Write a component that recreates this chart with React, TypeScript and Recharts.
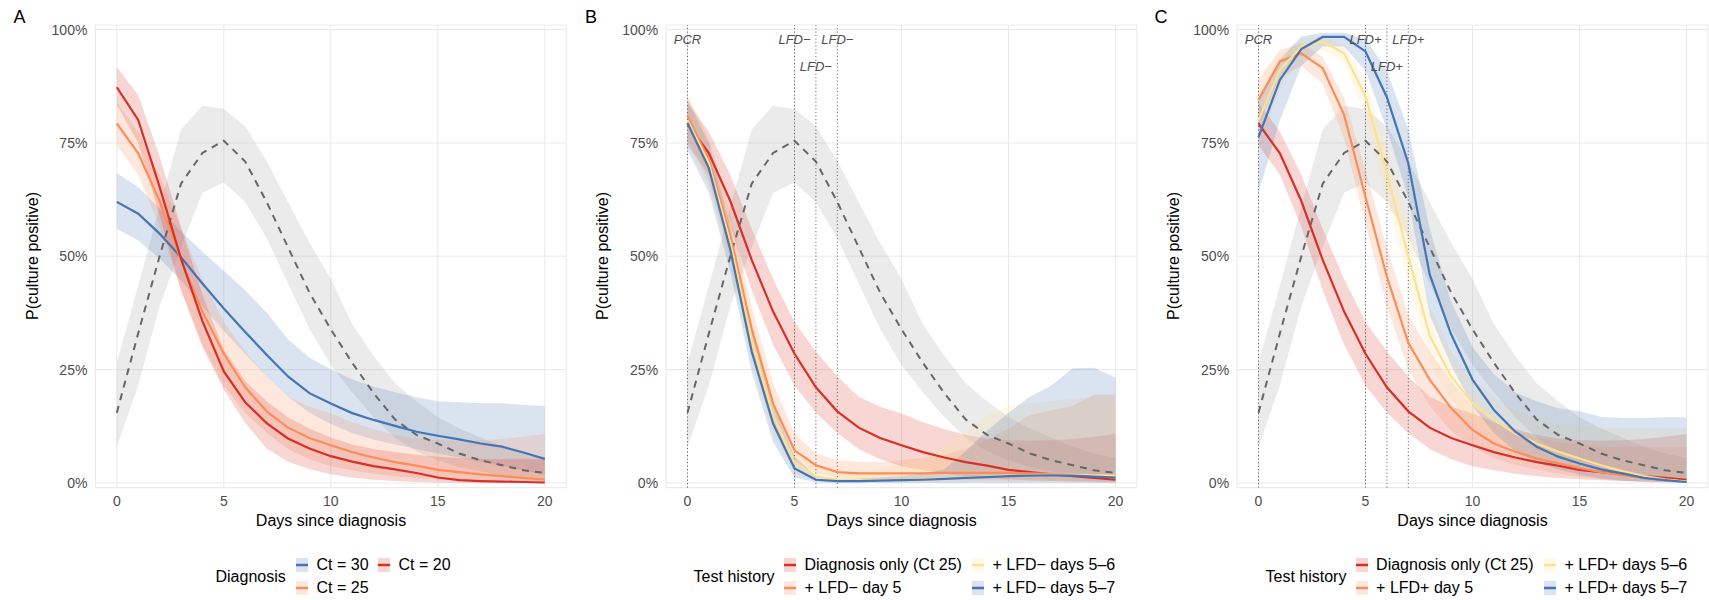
import React from 'react';
import { ComposedChart, Area, Line, XAxis, YAxis, CartesianGrid, ReferenceLine } from 'recharts';

const FONT = '"Liberation Sans", Arial, Helvetica, sans-serif';

const days = [0, 1, 2, 3, 4, 5, 6, 7, 8, 9, 10, 11, 12, 13, 14, 15, 16, 17, 18, 19, 20];
const xTicks = [0, 5, 10, 15, 20];
const yTicks = [0, 0.25, 0.5, 0.75, 1];

// grey reference curve (dashed) and its band
const refMid = [0.155, 0.33, 0.5, 0.66, 0.728, 0.755, 0.709, 0.62, 0.52, 0.42, 0.339, 0.265, 0.198, 0.14, 0.106, 0.087, 0.065, 0.05, 0.039, 0.028, 0.022];
const refLo = [0.08, 0.215, 0.39, 0.52, 0.64, 0.663, 0.62, 0.54, 0.44, 0.34, 0.26, 0.2, 0.145, 0.1, 0.07, 0.05, 0.035, 0.025, 0.017, 0.012, 0.008];
const refHi = [0.265, 0.435, 0.61, 0.78, 0.832, 0.825, 0.787, 0.71, 0.62, 0.53, 0.45, 0.35, 0.28, 0.22, 0.18, 0.145, 0.12, 0.1, 0.08, 0.065, 0.055];

// Panel A
const ct30Mid = [0.62, 0.594, 0.55, 0.498, 0.44, 0.385, 0.333, 0.283, 0.235, 0.198, 0.175, 0.154, 0.139, 0.126, 0.113, 0.104, 0.096, 0.087, 0.08, 0.067, 0.053];
const ct30Lo = [0.561, 0.535, 0.495, 0.447, 0.39, 0.335, 0.285, 0.235, 0.19, 0.155, 0.13, 0.11, 0.096, 0.085, 0.075, 0.065, 0.056, 0.047, 0.038, 0.028, 0.018];
const ct30Hi = [0.683, 0.653, 0.605, 0.555, 0.51, 0.468, 0.425, 0.376, 0.317, 0.276, 0.251, 0.228, 0.213, 0.2, 0.189, 0.18, 0.178, 0.176, 0.176, 0.172, 0.17];

const ct25Mid = [0.793, 0.727, 0.622, 0.492, 0.378, 0.285, 0.211, 0.158, 0.122, 0.099, 0.083, 0.068, 0.056, 0.046, 0.038, 0.029, 0.024, 0.019, 0.015, 0.011, 0.007];
const ct25Lo = [0.745, 0.68, 0.565, 0.425, 0.305, 0.215, 0.155, 0.11, 0.075, 0.052, 0.037, 0.028, 0.02, 0.015, 0.011, 0.008, 0.006, 0.004, 0.003, 0.002, 0.001];
const ct25Hi = [0.84, 0.775, 0.68, 0.56, 0.45, 0.355, 0.29, 0.235, 0.19, 0.168, 0.153, 0.134, 0.119, 0.106, 0.098, 0.094, 0.093, 0.094, 0.097, 0.102, 0.108];

const ct20Mid = [0.873, 0.801, 0.653, 0.495, 0.357, 0.246, 0.178, 0.132, 0.098, 0.076, 0.059, 0.047, 0.037, 0.03, 0.022, 0.012, 0.006, 0.004, 0.003, 0.002, 0.001];
const ct20Lo = [0.835, 0.75, 0.59, 0.425, 0.3, 0.206, 0.132, 0.076, 0.047, 0.03, 0.019, 0.012, 0.007, 0.004, 0.002, 0.001, 0, 0, 0, 0, 0];
const ct20Hi = [0.917, 0.856, 0.72, 0.565, 0.415, 0.295, 0.225, 0.18, 0.145, 0.12, 0.1, 0.085, 0.075, 0.068, 0.062, 0.058, 0.055, 0.053, 0.052, 0.052, 0.052];

// Panel B
const neg5Mid = [0.809, 0.713, 0.545, 0.34, 0.175, 0.072, 0.039, 0.024, 0.021, 0.021, 0.021, 0.021, 0.022, 0.022, 0.022, 0.022, 0.021, 0.02, 0.018, 0.016, 0.015];
const neg5Lo = [0.76, 0.665, 0.495, 0.29, 0.135, 0.045, 0.022, 0.012, 0.009, 0.008, 0.008, 0.007, 0.007, 0.006, 0.006, 0.006, 0.005, 0.005, 0.004, 0.004, 0.003];
const neg5Hi = [0.855, 0.76, 0.595, 0.39, 0.22, 0.109, 0.065, 0.05, 0.046, 0.046, 0.05, 0.055, 0.062, 0.075, 0.095, 0.12, 0.15, 0.16, 0.17, 0.195, 0.195];

const neg56Mid = [0.8, 0.705, 0.53, 0.315, 0.148, 0.046, 0.015, 0.007, 0.006, 0.006, 0.007, 0.008, 0.01, 0.012, 0.014, 0.016, 0.017, 0.018, 0.018, 0.017, 0.016];
const neg56Lo = [0.75, 0.655, 0.48, 0.265, 0.105, 0.022, 0.005, 0.002, 0.002, 0.002, 0.002, 0.002, 0.002, 0.002, 0.003, 0.003, 0.003, 0.003, 0.003, 0.003, 0.003];
const neg56Hi = [0.85, 0.755, 0.58, 0.365, 0.19, 0.075, 0.035, 0.025, 0.025, 0.03, 0.04, 0.055, 0.08, 0.115, 0.15, 0.17, 0.175, 0.18, 0.185, 0.19, 0.19];

const neg57Mid = [0.794, 0.694, 0.515, 0.29, 0.131, 0.032, 0.007, 0.004, 0.004, 0.005, 0.006, 0.007, 0.009, 0.011, 0.013, 0.015, 0.016, 0.017, 0.016, 0.014, 0.012];
const neg57Lo = [0.735, 0.64, 0.465, 0.245, 0.09, 0.012, 0.001, 0, 0, 0, 0, 0, 0, 0, 0, 0, 0, 0, 0, 0, 0];
const neg57Hi = [0.845, 0.75, 0.565, 0.34, 0.175, 0.058, 0.016, 0.01, 0.01, 0.012, 0.015, 0.02, 0.03, 0.07, 0.115, 0.155, 0.19, 0.215, 0.253, 0.254, 0.232];

// Panel C
const pos5Mid = [0.845, 0.93, 0.948, 0.915, 0.812, 0.631, 0.455, 0.309, 0.228, 0.165, 0.117, 0.087, 0.069, 0.054, 0.043, 0.033, 0.024, 0.017, 0.011, 0.006, 0.003];
const pos5Lo = [0.79, 0.895, 0.92, 0.88, 0.76, 0.57, 0.39, 0.25, 0.17, 0.115, 0.08, 0.055, 0.04, 0.03, 0.02, 0.013, 0.008, 0.005, 0.003, 0.002, 0.001];
const pos5Hi = [0.89, 0.955, 0.97, 0.94, 0.85, 0.69, 0.52, 0.37, 0.29, 0.225, 0.17, 0.135, 0.115, 0.1, 0.09, 0.085, 0.08, 0.08, 0.08, 0.08, 0.08];

const pos56Mid = [0.8, 0.911, 0.963, 0.974, 0.948, 0.853, 0.683, 0.5, 0.325, 0.235, 0.176, 0.139, 0.109, 0.087, 0.069, 0.054, 0.039, 0.026, 0.015, 0.008, 0.003];
const pos56Lo = [0.74, 0.87, 0.94, 0.955, 0.925, 0.81, 0.62, 0.44, 0.27, 0.185, 0.13, 0.095, 0.07, 0.05, 0.035, 0.025, 0.017, 0.01, 0.005, 0.003, 0.001];
const pos56Hi = [0.86, 0.945, 0.98, 0.985, 0.965, 0.89, 0.74, 0.57, 0.39, 0.29, 0.23, 0.19, 0.16, 0.14, 0.13, 0.125, 0.122, 0.12, 0.12, 0.12, 0.12];

const pos57Mid = [0.763, 0.889, 0.957, 0.984, 0.984, 0.952, 0.851, 0.705, 0.46, 0.328, 0.228, 0.161, 0.113, 0.08, 0.058, 0.043, 0.03, 0.021, 0.011, 0.006, 0.002];
const pos57Lo = [0.64, 0.8, 0.92, 0.963, 0.963, 0.91, 0.78, 0.63, 0.37, 0.26, 0.17, 0.11, 0.07, 0.045, 0.03, 0.018, 0.01, 0.005, 0.002, 0.001, 0];
const pos57Hi = [0.853, 0.934, 0.985, 0.993, 0.993, 0.98, 0.91, 0.78, 0.56, 0.4, 0.3, 0.24, 0.2, 0.18, 0.165, 0.158, 0.146, 0.143, 0.143, 0.145, 0.145];

const RED = '#D73027';
const ORANGE = '#FC8D59';
const YELLOW = '#FEE090';
const BLUE = '#4575B4';

type Series = { key: string; name: string; color: string; mid: number[]; lo: number[]; hi: number[] };

const seriesA: Series[] = [
  { key: 'ct30', name: 'Ct = 30', color: BLUE, mid: ct30Mid, lo: ct30Lo, hi: ct30Hi },
  { key: 'ct25', name: 'Ct = 25', color: ORANGE, mid: ct25Mid, lo: ct25Lo, hi: ct25Hi },
  { key: 'ct20', name: 'Ct = 20', color: RED, mid: ct20Mid, lo: ct20Lo, hi: ct20Hi },
];
const seriesB: Series[] = [
  { key: 'diag', name: 'Diagnosis only (Ct 25)', color: RED, mid: ct25Mid, lo: ct25Lo, hi: ct25Hi },
  { key: 'n5', name: '+ LFD\u2212 day 5', color: ORANGE, mid: neg5Mid, lo: neg5Lo, hi: neg5Hi },
  { key: 'n56', name: '+ LFD\u2212 days 5\u20136', color: YELLOW, mid: neg56Mid, lo: neg56Lo, hi: neg56Hi },
  { key: 'n57', name: '+ LFD\u2212 days 5\u20137', color: BLUE, mid: neg57Mid, lo: neg57Lo, hi: neg57Hi },
];
const seriesC: Series[] = [
  { key: 'diag', name: 'Diagnosis only (Ct 25)', color: RED, mid: ct25Mid, lo: ct25Lo, hi: ct25Hi },
  { key: 'p5', name: '+ LFD+ day 5', color: ORANGE, mid: pos5Mid, lo: pos5Lo, hi: pos5Hi },
  { key: 'p56', name: '+ LFD+ days 5\u20136', color: YELLOW, mid: pos56Mid, lo: pos56Lo, hi: pos56Hi },
  { key: 'p57', name: '+ LFD+ days 5\u20137', color: BLUE, mid: pos57Mid, lo: pos57Lo, hi: pos57Hi },
];

const testDays = [0, 5, 6, 7];
const testLabelsB = ['PCR', 'LFD\u2212', 'LFD\u2212', 'LFD\u2212'];
const testLabelsC = ['PCR', 'LFD+', 'LFD+', 'LFD+'];
const testLabelRows = [0, 0, 1, 0];

type PanelProps = {
  left: number;
  yw: number;
  right: number;
  series: Series[];
  testLabels?: string[];
};

function Panel({ left, yw, right, series, testLabels }: PanelProps) {
  const rows = days.map((d, i) => {
    const r: any = { day: d, refBand: [refLo[i], refHi[i]], refMid: refMid[i] };
    series.forEach((s) => {
      r[s.key + 'Band'] = [s.lo[i], s.hi[i]];
      r[s.key] = s.mid[i];
    });
    return r;
  });
  return (
    <div style={{ position: 'absolute', left, top: 0 }}>
      <ComposedChart width={570} height={600} data={rows} margin={{ top: 25, right, bottom: 82.4, left: 0 }}>
        <CartesianGrid stroke="#EBEBEB" strokeWidth={1.1} />
        <XAxis
          dataKey="day"
          type="number"
          domain={[-1, 21]}
          ticks={xTicks}
          interval={0}
          axisLine={false}
          tickLine={false}
          height={30}
          tick={{ fill: '#4D4D4D', fontSize: 14 }}
        />
        <YAxis
          type="number"
          domain={[-0.0103, 1.0103]}
          ticks={yTicks}
          interval={0}
          width={yw}
          axisLine={false}
          tickLine={false}
          tick={{ fill: '#4D4D4D', fontSize: 14 }}
          tickFormatter={(v: number) => Math.round(v * 100) + '%'}
        />
        <Area dataKey="refBand" type="linear" fill="#999999" fillOpacity={0.2} stroke="none" isAnimationActive={false} activeDot={false} />
        <Line dataKey="refMid" type="linear" stroke="#666666" strokeWidth={2} strokeDasharray="7 6" dot={false} activeDot={false} isAnimationActive={false} />
        {series.map((s) => (
          <Area key={s.key + 'Band'} dataKey={s.key + 'Band'} type="linear" fill={s.color} fillOpacity={0.2} stroke="none" isAnimationActive={false} activeDot={false} />
        ))}
        {testLabels &&
          testDays.map((d, i) => (
            <ReferenceLine
              key={'rl' + d}
              x={d}
              stroke="#555555"
              strokeWidth={1}
              strokeDasharray="1 2.5"
              label={{
                value: testLabels[i],
                position: 'insideTop',
                offset: testLabelRows[i] === 0 ? 9.4 : 36.9,
                fill: '#4D4D4D',
                fontSize: 13,
                fontStyle: 'italic',
              }}
            />
          ))}
        {series.map((s) => (
          <Line key={s.key} dataKey={s.key} type="linear" stroke={s.color} strokeWidth={2.2} dot={false} activeDot={false} isAnimationActive={false} />
        ))}
      </ComposedChart>
    </div>
  );
}

type LegendItem = { name: string; color: string; x: number; y: number };

function Legend({ title, titleX, items }: { title: string; titleX: number; items: LegendItem[] }) {
  return (
    <>
      <div style={{ position: 'absolute', left: titleX, top: 577, transform: 'translateY(-50%)', fontSize: 16, lineHeight: '18px', whiteSpace: 'nowrap', color: '#000' }}>
        {title}
      </div>
      {items.map((it) => (
        <React.Fragment key={it.name}>
          <svg style={{ position: 'absolute', left: it.x, top: it.y - 7 }} width={12} height={14}>
            <rect x={0} y={0} width={12} height={14} fill={it.color} fillOpacity={0.2} />
            <line x1={0} x2={12} y1={7} y2={7} stroke={it.color} strokeWidth={2.5} />
          </svg>
          <div style={{ position: 'absolute', left: it.x + 20.5, top: it.y, transform: 'translateY(-50%)', fontSize: 16, lineHeight: '18px', whiteSpace: 'nowrap', color: '#000' }}>
            {it.name}
          </div>
        </React.Fragment>
      ))}
    </>
  );
}

function Titles({ tag, tagX, yTitleX, xTitleX }: { tag: string; tagX: number; yTitleX: number; xTitleX: number }) {
  return (
    <>
      <div style={{ position: 'absolute', left: tagX, top: 16.7, transform: 'translate(-50%,-50%)', fontSize: 18, lineHeight: '20px', color: '#000' }}>{tag}</div>
      <div style={{ position: 'absolute', left: yTitleX, top: 256, transform: 'translate(-50%,-50%) rotate(-90deg)', fontSize: 16, lineHeight: '18px', whiteSpace: 'nowrap', color: '#000' }}>
        P(culture positive)
      </div>
      <div style={{ position: 'absolute', left: xTitleX, top: 521, transform: 'translate(-50%,-50%)', fontSize: 16, lineHeight: '18px', whiteSpace: 'nowrap', color: '#000' }}>
        Days since diagnosis
      </div>
    </>
  );
}

export default function App() {
  return (
    <div style={{ position: 'absolute', left: 0, top: 0, width: 1709, height: 600, background: '#fff', fontFamily: FONT, overflow: 'hidden' }}>
      <Panel left={0} yw={95.4} right={3.8} series={seriesA} />
      <Panel left={570} yw={96.1} right={3.1} series={seriesB} testLabels={testLabelsB} />
      <Panel left={1139} yw={98.1} right={1.1} series={seriesC} testLabels={testLabelsC} />

      <Titles tag="A" tagX={19.5} yTitleX={33} xTitleX={331} />
      <Titles tag="B" tagX={591} yTitleX={603} xTitleX={901.5} />
      <Titles tag="C" tagX={1161} yTitleX={1174} xTitleX={1472.5} />

      <Legend
        title="Diagnosis"
        titleX={215.5}
        items={[
          { name: seriesA[0].name, color: seriesA[0].color, x: 296, y: 565 },
          { name: seriesA[1].name, color: seriesA[1].color, x: 296, y: 588 },
          { name: seriesA[2].name, color: seriesA[2].color, x: 378, y: 565 },
        ]}
      />
      <Legend
        title="Test history"
        titleX={693.6}
        items={[
          { name: seriesB[0].name, color: seriesB[0].color, x: 784, y: 565 },
          { name: seriesB[1].name, color: seriesB[1].color, x: 784, y: 588 },
          { name: seriesB[2].name, color: seriesB[2].color, x: 972, y: 565 },
          { name: seriesB[3].name, color: seriesB[3].color, x: 972, y: 588 },
        ]}
      />
      <Legend
        title="Test history"
        titleX={1265.5}
        items={[
          { name: seriesC[0].name, color: seriesC[0].color, x: 1355.6, y: 565 },
          { name: seriesC[1].name, color: seriesC[1].color, x: 1355.6, y: 588 },
          { name: seriesC[2].name, color: seriesC[2].color, x: 1544, y: 565 },
          { name: seriesC[3].name, color: seriesC[3].color, x: 1544, y: 588 },
        ]}
      />
    </div>
  );
}
